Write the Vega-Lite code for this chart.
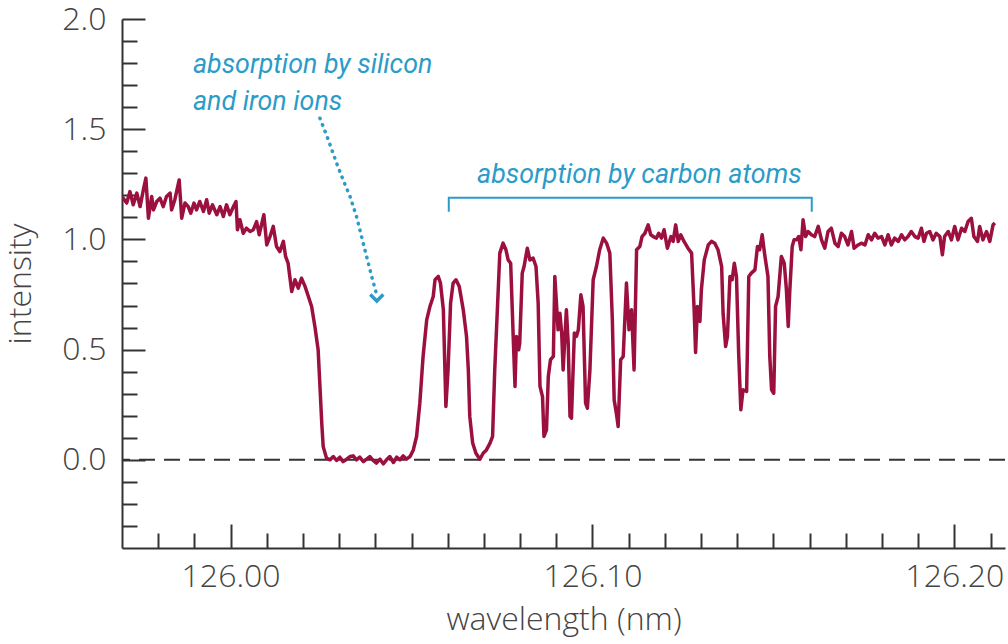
{
  "$schema": "https://vega.github.io/schema/vega-lite/v6.json",
  "width": 883,
  "height": 529,
  "autosize": "none",
  "padding": {"left": 122, "top": 19, "right": 3, "bottom": 96},
  "background": "white",
  "config": {"view": {"stroke": null}, "font": "Open Sans"},
  "datasets": {
    "spectrum": [
      {"wavelength":125.9702,"intensity":1.19},{"wavelength":125.9713,"intensity":1.165},{"wavelength":125.9722,"intensity":1.217},{"wavelength":125.9731,"intensity":1.157},{"wavelength":125.9741,"intensity":1.21},{"wavelength":125.975,"intensity":1.149},{"wavelength":125.9759,"intensity":1.225},{"wavelength":125.9766,"intensity":1.278},{"wavelength":125.9773,"intensity":1.096},{"wavelength":125.9782,"intensity":1.195},{"wavelength":125.9787,"intensity":1.134},{"wavelength":125.9796,"intensity":1.172},{"wavelength":125.9805,"intensity":1.187},{"wavelength":125.9814,"intensity":1.149},{"wavelength":125.9823,"intensity":1.195},{"wavelength":125.9833,"intensity":1.21},{"wavelength":125.9837,"intensity":1.134},{"wavelength":125.9846,"intensity":1.18},{"wavelength":125.9858,"intensity":1.27},{"wavelength":125.9865,"intensity":1.096},{"wavelength":125.9874,"intensity":1.165},{"wavelength":125.9883,"intensity":1.149},{"wavelength":125.989,"intensity":1.119},{"wavelength":125.9899,"intensity":1.165},{"wavelength":125.9906,"intensity":1.134},{"wavelength":125.9915,"intensity":1.172},{"wavelength":125.9925,"intensity":1.127},{"wavelength":125.9934,"intensity":1.18},{"wavelength":125.9941,"intensity":1.119},{"wavelength":125.995,"intensity":1.157},{"wavelength":125.9962,"intensity":1.112},{"wavelength":125.9971,"intensity":1.149},{"wavelength":125.998,"intensity":1.104},{"wavelength":125.9989,"intensity":1.157},{"wavelength":125.9998,"intensity":1.112},{"wavelength":126.0008,"intensity":1.149},{"wavelength":126.0015,"intensity":1.172},{"wavelength":126.0019,"intensity":1.044},{"wavelength":126.0026,"intensity":1.089},{"wavelength":126.0035,"intensity":1.028},{"wavelength":126.0044,"intensity":1.051},{"wavelength":126.0054,"intensity":1.036},{"wavelength":126.0063,"intensity":1.044},{"wavelength":126.0072,"intensity":1.081},{"wavelength":126.0079,"intensity":1.021},{"wavelength":126.0092,"intensity":1.112},{"wavelength":126.01,"intensity":0.975},{"wavelength":126.0109,"intensity":1.013},{"wavelength":126.0118,"intensity":1.059},{"wavelength":126.0127,"intensity":0.968},{"wavelength":126.0136,"intensity":0.945},{"wavelength":126.0146,"intensity":0.991},{"wavelength":126.0152,"intensity":0.923},{"wavelength":126.0159,"intensity":0.892},{"wavelength":126.0169,"intensity":0.764},{"wavelength":126.0178,"intensity":0.817},{"wavelength":126.0187,"intensity":0.779},{"wavelength":126.0196,"intensity":0.824},{"wavelength":126.0206,"intensity":0.786},{"wavelength":126.0215,"intensity":0.741},{"wavelength":126.0224,"intensity":0.696},{"wavelength":126.0233,"intensity":0.605},{"wavelength":126.0242,"intensity":0.499},{"wavelength":126.0247,"intensity":0.333},{"wavelength":126.0252,"intensity":0.166},{"wavelength":126.0256,"intensity":0.06},{"wavelength":126.0265,"intensity":0.008},
      {"wavelength":126.0275,"intensity":0.0},{"wavelength":126.0284,"intensity":0.015},{"wavelength":126.0293,"intensity":-0.003},{"wavelength":126.0302,"intensity":0.012},{"wavelength":126.0311,"intensity":-0.008},{"wavelength":126.0321,"intensity":0.003},{"wavelength":126.033,"intensity":0.015},{"wavelength":126.0339,"intensity":0.018},{"wavelength":126.0348,"intensity":0.0},{"wavelength":126.0357,"intensity":0.012},{"wavelength":126.0367,"intensity":-0.008},{"wavelength":126.0376,"intensity":0.003},{"wavelength":126.0385,"intensity":0.015},{"wavelength":126.0394,"intensity":-0.003},{"wavelength":126.0403,"intensity":-0.015},{"wavelength":126.0413,"intensity":0.003},{"wavelength":126.0422,"intensity":-0.018},{"wavelength":126.0431,"intensity":0.0},{"wavelength":126.044,"intensity":0.015},{"wavelength":126.045,"intensity":-0.012},{"wavelength":126.0459,"intensity":0.012},{"wavelength":126.0468,"intensity":0.0},{"wavelength":126.0477,"intensity":0.018},{"wavelength":126.0486,"intensity":0.003},{"wavelength":126.0496,"intensity":0.015},
      {"wavelength":126.0505,"intensity":0.045},{"wavelength":126.0514,"intensity":0.106},{"wavelength":126.0523,"intensity":0.257},{"wavelength":126.0532,"intensity":0.469},{"wavelength":126.0542,"intensity":0.635},{"wavelength":126.0551,"intensity":0.696},{"wavelength":126.056,"intensity":0.741},{"wavelength":126.0565,"intensity":0.817},{"wavelength":126.0574,"intensity":0.832},{"wavelength":126.058,"intensity":0.802},{"wavelength":126.0588,"intensity":0.681},{"wavelength":126.0595,"intensity":0.242},{"wavelength":126.0601,"intensity":0.408},{"wavelength":126.0608,"intensity":0.711},{"wavelength":126.0615,"intensity":0.802},{"wavelength":126.0623,"intensity":0.817},{"wavelength":126.0632,"intensity":0.786},{"wavelength":126.0643,"intensity":0.681},{"wavelength":126.0652,"intensity":0.56},{"wavelength":126.0657,"intensity":0.408},{"wavelength":126.0661,"intensity":0.197},{"wavelength":126.0669,"intensity":0.076},{"wavelength":126.0678,"intensity":0.03},{"wavelength":126.0689,"intensity":0.003},{"wavelength":126.0698,"intensity":0.03},{"wavelength":126.0707,"intensity":0.045},{"wavelength":126.0717,"intensity":0.076},{"wavelength":126.0724,"intensity":0.106},{"wavelength":126.073,"intensity":0.408},{"wavelength":126.074,"intensity":0.786},{"wavelength":126.0744,"intensity":0.938},{"wavelength":126.0753,"intensity":0.983},{"wavelength":126.0761,"intensity":0.953},{"wavelength":126.0767,"intensity":0.907},{"wavelength":126.0774,"intensity":0.892},{"wavelength":126.0781,"intensity":0.56},{"wavelength":126.0786,"intensity":0.333},{"wavelength":126.079,"intensity":0.56},{"wavelength":126.0796,"intensity":0.499},{"wavelength":126.0799,"intensity":0.529},{"wavelength":126.0806,"intensity":0.847},{"wavelength":126.0811,"intensity":0.877},{"wavelength":126.082,"intensity":0.96},{"wavelength":126.0827,"intensity":0.907},{"wavelength":126.0836,"intensity":0.915},{"wavelength":126.0844,"intensity":0.877},{"wavelength":126.085,"intensity":0.711},{"wavelength":126.0855,"intensity":0.333},{"wavelength":126.0862,"intensity":0.287},{"wavelength":126.0866,"intensity":0.106},{"wavelength":126.0873,"intensity":0.136},{"wavelength":126.0878,"intensity":0.378},{"wavelength":126.0884,"intensity":0.454},{"wavelength":126.0892,"intensity":0.469},
      {"wavelength":126.0896,"intensity":0.832},{"wavelength":126.0905,"intensity":0.59},{"wavelength":126.091,"intensity":0.665},{"wavelength":126.0915,"intensity":0.575},{"wavelength":126.0919,"intensity":0.408},{"wavelength":126.0928,"intensity":0.681},{"wavelength":126.0933,"intensity":0.529},{"wavelength":126.0938,"intensity":0.197},{"wavelength":126.0942,"intensity":0.189},{"wavelength":126.095,"intensity":0.575},{"wavelength":126.0956,"intensity":0.56},{"wavelength":126.0961,"intensity":0.59},{"wavelength":126.0968,"intensity":0.749},{"wavelength":126.0974,"intensity":0.696},{"wavelength":126.0981,"intensity":0.257},{"wavelength":126.0986,"intensity":0.234},{"wavelength":126.0993,"intensity":0.408},{"wavelength":126.1002,"intensity":0.817},{"wavelength":126.1011,"intensity":0.877},{"wavelength":126.102,"intensity":0.953},{"wavelength":126.103,"intensity":1.006},{"wavelength":126.1039,"intensity":0.983},{"wavelength":126.1048,"intensity":0.938},{"wavelength":126.1055,"intensity":0.635},{"wavelength":126.106,"intensity":0.272},{"wavelength":126.1066,"intensity":0.212},{"wavelength":126.1071,"intensity":0.151},{"wavelength":126.1078,"intensity":0.454},{"wavelength":126.1085,"intensity":0.469},{"wavelength":126.1094,"intensity":0.802},{"wavelength":126.1101,"intensity":0.59},{"wavelength":126.1108,"intensity":0.681},{"wavelength":126.1115,"intensity":0.408},{"wavelength":126.1122,"intensity":0.953},{"wavelength":126.1131,"intensity":0.968},{"wavelength":126.1137,"intensity":1.013},{"wavelength":126.1145,"intensity":1.028},{"wavelength":126.1154,"intensity":1.066},{"wavelength":126.1161,"intensity":1.021},{"wavelength":126.1168,"intensity":1.013},{"wavelength":126.1177,"intensity":1.006},{"wavelength":126.1183,"intensity":1.028},{"wavelength":126.1191,"intensity":1.006},{"wavelength":126.1198,"intensity":1.044},{"wavelength":126.1207,"intensity":0.96},{"wavelength":126.1217,"intensity":1.013},{"wavelength":126.1223,"intensity":0.991},{"wavelength":126.123,"intensity":1.066},{"wavelength":126.1237,"intensity":0.991},{"wavelength":126.1244,"intensity":1.021},{"wavelength":126.1253,"intensity":0.991},{"wavelength":126.1264,"intensity":0.96},{"wavelength":126.1274,"intensity":0.938},{"wavelength":126.1281,"intensity":0.681},{"wavelength":126.1285,"intensity":0.487},{"wavelength":126.129,"intensity":0.696},{"wavelength":126.1297,"intensity":0.628},{"wavelength":126.1301,"intensity":0.771},{"wavelength":126.1309,"intensity":0.907},{"wavelength":126.132,"intensity":0.975},{"wavelength":126.1329,"intensity":0.991},{"wavelength":126.1338,"intensity":0.983},{"wavelength":126.1347,"intensity":0.953},{"wavelength":126.1357,"intensity":0.877},{"wavelength":126.1361,"intensity":0.665},{"wavelength":126.1368,"intensity":0.514},{"wavelength":126.1373,"intensity":0.56},{"wavelength":126.138,"intensity":0.832},{"wavelength":126.1386,"intensity":0.817},{"wavelength":126.1392,"intensity":0.892},{"wavelength":126.1398,"intensity":0.832},{"wavelength":126.1404,"intensity":0.484},{"wavelength":126.141,"intensity":0.227},{"wavelength":126.1416,"intensity":0.318},{"wavelength":126.1426,"intensity":0.31},{"wavelength":126.1432,"intensity":0.832},{"wavelength":126.1439,"intensity":0.847},{"wavelength":126.1449,"intensity":0.862},{"wavelength":126.1456,"intensity":0.968},{"wavelength":126.1462,"intensity":0.953},{"wavelength":126.1469,"intensity":1.021},{"wavelength":126.1476,"intensity":0.93},{"wavelength":126.1485,"intensity":0.832},{"wavelength":126.149,"intensity":0.469},{"wavelength":126.1495,"intensity":0.318},{"wavelength":126.1501,"intensity":0.302},{"wavelength":126.1506,"intensity":0.696},{"wavelength":126.1513,"intensity":0.741},{"wavelength":126.1522,"intensity":0.923},{"wavelength":126.153,"intensity":0.892},{"wavelength":126.1536,"intensity":0.771},{"wavelength":126.1541,"intensity":0.605},{"wavelength":126.1545,"intensity":0.756},{"wavelength":126.1552,"intensity":0.968},{"wavelength":126.1557,"intensity":0.998},{"wavelength":126.1564,"intensity":0.998},{"wavelength":126.157,"intensity":1.013},{"wavelength":126.1576,"intensity":0.953},{"wavelength":126.1582,"intensity":1.089},{"wavelength":126.1589,"intensity":1.013},{"wavelength":126.1596,"intensity":1.036},{"wavelength":126.1605,"intensity":1.021},{"wavelength":126.1614,"intensity":1.013},{"wavelength":126.1624,"intensity":1.059},{"wavelength":126.1633,"intensity":0.998},{"wavelength":126.1642,"intensity":0.96},{"wavelength":126.1651,"intensity":1.036},{"wavelength":126.166,"intensity":1.051},{"wavelength":126.167,"intensity":0.983},{"wavelength":126.1679,"intensity":0.968},{"wavelength":126.1688,"intensity":1.028},{"wavelength":126.1697,"intensity":1.013},{"wavelength":126.1706,"intensity":0.975},{"wavelength":126.1716,"intensity":1.036},{"wavelength":126.1723,"intensity":0.96},{"wavelength":126.1734,"intensity":0.975},{"wavelength":126.1743,"intensity":0.983},{"wavelength":126.1753,"intensity":0.975},{"wavelength":126.1762,"intensity":1.021},{"wavelength":126.1771,"intensity":0.998},{"wavelength":126.178,"intensity":1.028},{"wavelength":126.1789,"intensity":1.006},{"wavelength":126.1799,"intensity":1.013},{"wavelength":126.1808,"intensity":0.975},{"wavelength":126.1817,"intensity":1.021},{"wavelength":126.1826,"intensity":0.975},{"wavelength":126.1835,"intensity":1.006},{"wavelength":126.1845,"intensity":0.991},{"wavelength":126.1854,"intensity":1.021},{"wavelength":126.1863,"intensity":0.998},{"wavelength":126.1872,"intensity":1.013},{"wavelength":126.1881,"intensity":1.036},{"wavelength":126.1891,"intensity":1.013},{"wavelength":126.19,"intensity":1.006},{"wavelength":126.1909,"intensity":1.051},{"wavelength":126.1916,"intensity":0.991},{"wavelength":126.1923,"intensity":1.028},{"wavelength":126.1932,"intensity":1.036},{"wavelength":126.1941,"intensity":0.998},{"wavelength":126.195,"intensity":1.028},{"wavelength":126.196,"intensity":1.013},{"wavelength":126.1967,"intensity":0.93},{"wavelength":126.1973,"intensity":1.013},{"wavelength":126.1983,"intensity":1.036},{"wavelength":126.1992,"intensity":0.998},{"wavelength":126.2001,"intensity":1.059},{"wavelength":126.201,"intensity":0.998},{"wavelength":126.202,"intensity":1.051},{"wavelength":126.2029,"intensity":1.036},{"wavelength":126.2038,"intensity":1.081},{"wavelength":126.2047,"intensity":1.096},{"wavelength":126.2054,"intensity":1.013},{"wavelength":126.2064,"intensity":0.991},{"wavelength":126.207,"intensity":1.059},{"wavelength":126.2079,"intensity":0.998},{"wavelength":126.2089,"intensity":1.036},{"wavelength":126.2098,"intensity":0.991},{"wavelength":126.2107,"intensity":1.066},{"wavelength":126.2112,"intensity":1.074}
    ],
    "arrow": [
      {"wavelength":126.0247,"intensity":1.55},{"wavelength":126.027,"intensity":1.452},{"wavelength":126.0293,"intensity":1.346},{"wavelength":126.0311,"intensity":1.27},{"wavelength":126.033,"intensity":1.195},{"wavelength":126.0348,"intensity":1.104},{"wavelength":126.0362,"intensity":1.013},{"wavelength":126.0376,"intensity":0.922},{"wavelength":126.039,"intensity":0.832},{"wavelength":126.0402,"intensity":0.76}
    ],
    "head": [{"wavelength":126.0404,"intensity":0.735}],
    "bracket": [
      {"wavelength":126.0603,"intensity":1.125,"seq":1},{"wavelength":126.0603,"intensity":1.189,"seq":2},{"wavelength":126.1606,"intensity":1.189,"seq":3},{"wavelength":126.1606,"intensity":1.125,"seq":4}
    ],
    "notes": [
      {"wavelength":125.9896,"intensity":1.756,"label":"absorption by silicon"},
      {"wavelength":125.9896,"intensity":1.588,"label":"and iron ions"},
      {"wavelength":126.0681,"intensity":1.257,"label":"absorption by carbon atoms"}
    ],
    "zero": [{"intensity":0}]
  },
  "layer": [
    {
      "data": {"name": "zero"},
      "mark": {"type": "rule", "color": "#333333", "strokeWidth": 2, "strokeDash": [16, 9]},
      "encoding": {
        "y": {"field": "intensity", "type": "quantitative", "scale": {"domain": [-0.4, 2.0], "nice": false, "zero": false}}
      }
    },
    {
      "data": {"name": "spectrum"},
      "mark": {"type": "line", "color": "#9c1040", "strokeWidth": 3.5, "strokeJoin": "round", "clip": true},
      "encoding": {
        "x": {
          "field": "wavelength", "type": "quantitative",
          "scale": {"domain": [125.97, 126.214], "nice": false, "zero": false},
          "axis": {
            "orient": "bottom",
            "title": "wavelength (nm)",
            "values": [125.98,125.99,126,126.01,126.02,126.03,126.04,126.05,126.06,126.07,126.08,126.09,126.1,126.11,126.12,126.13,126.14,126.15,126.16,126.17,126.18,126.19,126.2,126.21],
            "tickCount": 200,
            "grid": false,
            "domainColor": "#333333", "domainWidth": 2,
            "tickColor": "#333333", "tickWidth": 2,
            "tickSize": {"condition": {"test": "abs(datum.value*10 - round(datum.value*10)) < 0.001", "value": -24}, "value": -15},
            "labelExpr": "abs(datum.value*10 - round(datum.value*10)) < 0.001 ? format(datum.value, '.2f') : ''",
            "labelFont": "Open Sans", "labelFontWeight": 300, "labelFontSize": 32, "labelColor": "#444444",
            "labelPadding": 37, "labelFlush": false, "labelOverlap": false,
            "titleFont": "Open Sans", "titleFontWeight": 300, "titleFontSize": 32, "titleColor": "#444444",
            "titlePadding": 3
          }
        },
        "y": {
          "field": "intensity", "type": "quantitative",
          "scale": {"domain": [-0.4, 2.0], "nice": false, "zero": false},
          "axis": {
            "orient": "left",
            "title": "intensity",
            "values": [-0.3,-0.2,-0.1,0,0.1,0.2,0.3,0.4,0.5,0.6,0.7,0.8,0.9,1,1.1,1.2,1.3,1.4,1.5,1.6,1.7,1.8,1.9,2],
            "tickCount": 200,
            "grid": false,
            "domainColor": "#333333", "domainWidth": 2,
            "tickColor": "#333333", "tickWidth": 2,
            "tickSize": {"condition": {"test": "abs(datum.value*2 - round(datum.value*2)) < 0.001", "value": -23}, "value": -15},
            "labelExpr": "abs(datum.value*2 - round(datum.value*2)) < 0.001 ? format(datum.value, '.1f') : ''",
            "labelFont": "Open Sans", "labelFontWeight": 300, "labelFontSize": 32, "labelColor": "#444444",
            "labelPadding": 39, "labelFlush": false, "labelOverlap": false,
            "titleFont": "Open Sans", "titleFontWeight": 300, "titleFontSize": 32, "titleColor": "#444444",
            "titlePadding": 24
          }
        }
      }
    },
    {
      "data": {"name": "arrow"},
      "mark": {"type": "line", "color": "#2b9bc8", "strokeWidth": 3.5, "strokeCap": "round", "strokeDash": [0.5, 6.5]},
      "encoding": {
        "x": {"field": "wavelength", "type": "quantitative"},
        "y": {"field": "intensity", "type": "quantitative"}
      }
    },
    {
      "data": {"name": "head"},
      "mark": {"type": "point", "shape": "M-1,-0.5L0,0.5L1,-0.5", "filled": false, "color": "#2b9bc8", "strokeWidth": 3.5, "size": 170, "opacity": 1},
      "encoding": {
        "x": {"field": "wavelength", "type": "quantitative"},
        "y": {"field": "intensity", "type": "quantitative"}
      }
    },
    {
      "data": {"name": "bracket"},
      "mark": {"type": "line", "color": "#2b9bc8", "strokeWidth": 2},
      "encoding": {
        "x": {"field": "wavelength", "type": "quantitative"},
        "y": {"field": "intensity", "type": "quantitative"},
        "order": {"field": "seq", "type": "quantitative"}
      }
    },
    {
      "data": {"name": "notes"},
      "mark": {"type": "text", "align": "left", "baseline": "alphabetic", "font": "Roboto", "fontStyle": "italic", "fontWeight": 400, "fontSize": 26.8, "color": "#2b9bc8"},
      "encoding": {
        "x": {"field": "wavelength", "type": "quantitative"},
        "y": {"field": "intensity", "type": "quantitative"},
        "text": {"field": "label", "type": "nominal"}
      }
    }
  ]
}
